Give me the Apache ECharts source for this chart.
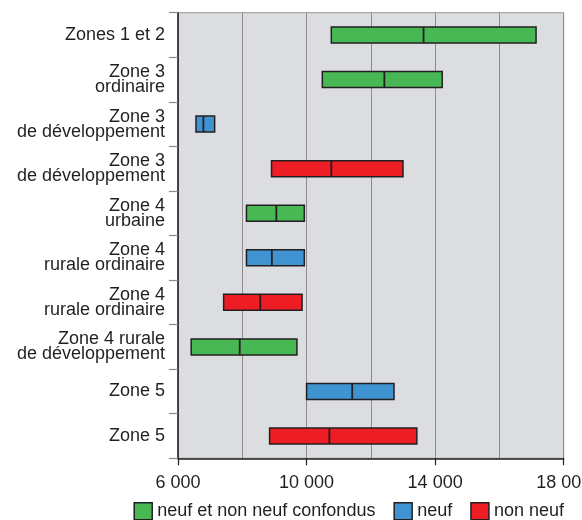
<!DOCTYPE html>
<html>
<head>
<meta charset="utf-8">
<script src="https://cdn.jsdelivr.net/npm/echarts@6/dist/echarts.min.js"></script>
<style>
html,body{margin:0;padding:0;background:#fff;}
#chart{width:582px;height:520px;}
</style>
</head>
<body>
<div id="chart"></div>
<script>
const categories = ['Zones 1 et 2', 'Zone 3\nordinaire', 'Zone 3\nde développement', 'Zone 3\nde développement', 'Zone 4\nurbaine', 'Zone 4\nrurale ordinaire', 'Zone 4\nrurale ordinaire', 'Zone 4 rurale\nde développement', 'Zone 5', 'Zone 5'];
const rowSeries = [0, 0, 1, 2, 0, 1, 2, 0, 1, 2];
const minValues = [10770, 10490, 6560, 8910, 8130, 8130, 7420, 6410, 10000, 8850];
const medianValues = [13640, 12420, 6790, 10770, 9060, 8920, 8560, 7920, 11420, 10710];
const maxValues = [17140, 14220, 7140, 13000, 9930, 9930, 9860, 9700, 12720, 13430];
const seriesNames = ['neuf et non neuf confondus', 'neuf', 'non neuf'];
const seriesColors = ['#48b855', '#3f93d1', '#ee1c25'];
const xTicks = [6000, 10000, 14000, 18000];

const FONT = '"Liberation Sans", Arial, sans-serif';
const DARK = '#231f20';

function renderItem(color) {
  return function (params, api) {
    const y = api.value(0);
    const p0 = api.coord([api.value(1), y]);
    const p1 = api.coord([api.value(2), y]);
    const p2 = api.coord([api.value(3), y]);
    const h = 16;
    return {
      type: 'group',
      children: [
        { type: 'rect', shape: { x: p0[0], y: p0[1] - h / 2, width: p2[0] - p0[0], height: h },
          style: { fill: color, stroke: DARK, lineWidth: 1.5 } },
        { type: 'line', shape: { x1: p1[0], y1: p0[1] - h / 2, x2: p1[0], y2: p0[1] + h / 2 },
          style: { stroke: DARK, lineWidth: 1.8 } }
      ]
    };
  };
}

const series = seriesNames.map((name, s) => {
  const data = [];
  for (let i = 0; i < categories.length; i++) {
    if (rowSeries[i] === s) data.push([i, minValues[i], medianValues[i], maxValues[i]]);
  }
  return {
    name: name,
    type: 'custom',
    renderItem: renderItem(seriesColors[s]),
    itemStyle: { color: seriesColors[s], borderColor: DARK, borderWidth: 1.5 },
    encode: { x: [1, 2, 3], y: 0 },
    data: data
  };
});

const chart = echarts.init(document.getElementById('chart'));
chart.setOption({
  animation: false,
  textStyle: { fontFamily: FONT },
  grid: {
    left: 178, right: 18.3, top: 12.7, bottom: 61.7,
    outerBoundsMode: 'none', containLabel: false,
    show: true, backgroundColor: '#dcdde0', borderColor: '#9a9a9a', borderWidth: 1
  },
  legend: {
    right: 13, top: 497, itemWidth: 18, itemHeight: 17, itemGap: 18,
    icon: 'rect',
    textStyle: { fontSize: 18, color: DARK, fontFamily: FONT },
    data: seriesNames.map((n, s) => ({ name: n, itemStyle: { color: seriesColors[s], borderColor: DARK, borderWidth: 1.5 } }))
  },
  xAxis: {
    type: 'value', min: 6000, max: 18000, interval: 4000,
    axisLine: { show: true, lineStyle: { color: DARK, width: 1.5 } },
    axisTick: { show: true, length: 7, lineStyle: { color: DARK, width: 1.2 } },
    axisLabel: {
      fontSize: 18, color: DARK, margin: 16, fontFamily: FONT, hideOverlap: false,
      formatter: v => xTicks.indexOf(v) >= 0 ? String(v).replace(/\B(?=(\d{3})+(?!\d))/g, ' ') : ''
    },
    splitLine: { show: true, lineStyle: { color: '#8c8c8c', width: 1 } },
    minorTick: { show: false, splitNumber: 2 },
    minorSplitLine: { show: true, lineStyle: { color: '#8c8c8c', width: 1 } }
  },
  yAxis: {
    type: 'category', inverse: true, data: categories,
    axisLine: { show: true, lineStyle: { color: DARK, width: 1.5 } },
    axisTick: { show: true, length: 9, alignWithLabel: false, lineStyle: { color: '#8a8a8a', width: 1.2 } },
    axisLabel: { fontSize: 18, lineHeight: 15, color: DARK, margin: 13, fontFamily: FONT, interval: 0 },
    splitLine: { show: false }
  },
  series: series
});
</script>
</body>
</html>
